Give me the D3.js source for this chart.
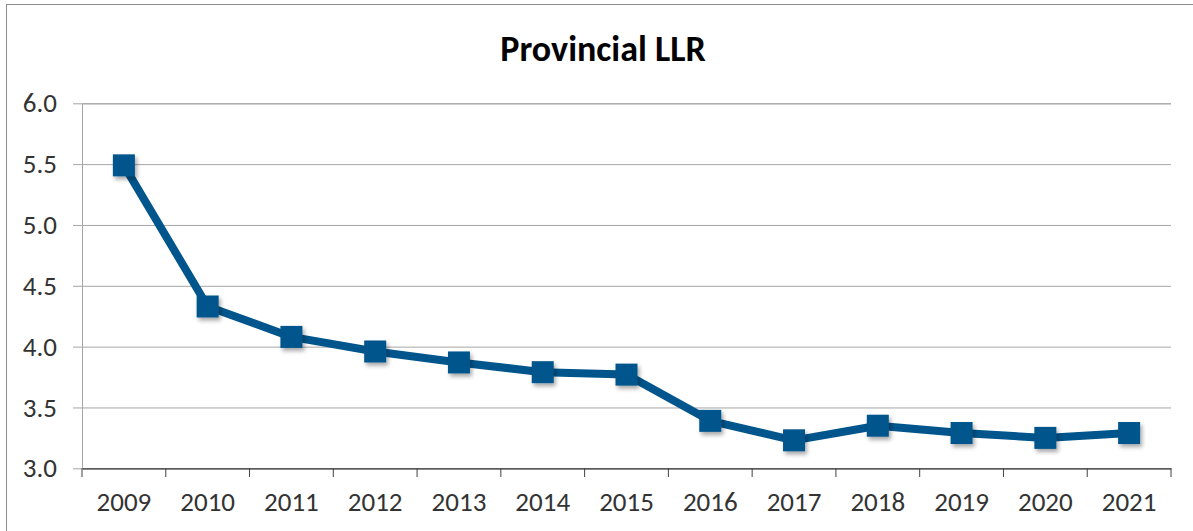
<!DOCTYPE html>
<html lang="en">
<head>
    <meta charset="UTF-8">
    <title>Provincial LLR</title>
    <script src="https://cdnjs.cloudflare.com/ajax/libs/d3/7.6.1/d3.min.js"></script>
    <style>
        body { margin: 0; background: #fff; }
        svg { display: block; }
    </style>
</head>
<body>
<svg id="chart" width="1193" height="531"></svg>
<script>
    // data
    const years = ["2009", "2010", "2011", "2012", "2013", "2014", "2015", "2016", "2017", "2018", "2019", "2020", "2021"]
    const llr = [5.49, 4.33, 4.08, 3.96, 3.87, 3.79, 3.77, 3.39, 3.23, 3.35, 3.29, 3.25, 3.29]
    const yTicks = [3.0, 3.5, 4.0, 4.5, 5.0, 5.5, 6.0]

    const svg = d3.select("#chart")
    const font = "Carlito, 'Open Sans', 'Noto Sans', sans-serif"

    // chart frame
    svg.append("rect")
        .attr("x", 6.5).attr("y", 4.5)
        .attr("width", 1200).attr("height", 540)
        .attr("fill", "#fff")
        .attr("stroke", "#8c8c8c")
        .attr("stroke-width", 1)

    // shadow for markers
    const defs = svg.append("defs")
    const f = defs.append("filter").attr("id", "shadow")
        .attr("x", "-50%").attr("y", "-50%").attr("width", "200%").attr("height", "200%")
    f.append("feDropShadow")
        .attr("dx", 2).attr("dy", 3).attr("stdDeviation", 2)
        .attr("flood-color", "#000").attr("flood-opacity", 0.35)

    const x = d3.scaleBand().domain(years).range([82, 1171])
    const y = d3.scaleLinear().domain([3, 6]).range([468.3, 103.3])

    // title
    svg.append("text")
        .attr("x", 603).attr("y", 61)
        .attr("text-anchor", "middle")
        .style("font-family", font)
        .style("font-size", "36px")
        .style("font-weight", "bold")
        .text("Provincial LLR")

    // y grid + axis
    const yAxis = svg.append("g")
        .attr("transform", "translate(82,0)")
        .call(d3.axisLeft(y).tickValues(yTicks).tickFormat(d3.format(".1f"))
            .tickSize(-1089).tickPadding(25))
    yAxis.select(".domain").attr("stroke", "#a6a6a6")
    yAxis.selectAll(".tick line")
        .attr("stroke", "#a6a6a6")
        .attr("x1", -9)
    yAxis.selectAll(".tick text")
        .attr("fill", "#333")
        .style("font-family", font)
        .style("font-size", "27px")

    // x axis
    const xAxis = svg.append("g")
        .attr("transform", "translate(0,468.3)")
        .call(d3.axisBottom(x).tickSize(0).tickPadding(24))
    xAxis.select(".domain").attr("stroke", "#404040").attr("stroke-width", 1.2)
    xAxis.selectAll(".tick text")
        .attr("fill", "#333")
        .style("font-family", font)
        .style("font-size", "27px")
    // boundary ticks between categories
    svg.append("g").selectAll("line")
        .data(years.concat(["end"]))
        .join("line")
        .attr("x1", (d, i) => i < years.length ? x(d) : x.range()[1])
        .attr("x2", (d, i) => i < years.length ? x(d) : x.range()[1])
        .attr("y1", 468.3).attr("y2", 477)
        .attr("stroke", "#404040")

    // line
    const cx = d => x(d) + x.bandwidth() / 2
    const line = d3.line()
        .x((d, i) => cx(years[i]))
        .y(d => y(d))
    svg.append("path")
        .datum(llr)
        .attr("d", line)
        .attr("fill", "none")
        .attr("stroke", "#00558c")
        .attr("stroke-width", 8)
        .attr("stroke-linejoin", "round")

    // square markers
    const m = 22
    svg.append("g").selectAll("rect")
        .data(llr)
        .join("rect")
        .attr("x", (d, i) => cx(years[i]) - m / 2)
        .attr("y", d => y(d) - m / 2)
        .attr("width", m).attr("height", m)
        .attr("fill", "#00558c")
        .attr("filter", "url(#shadow)")
</script>
</body>
</html>
